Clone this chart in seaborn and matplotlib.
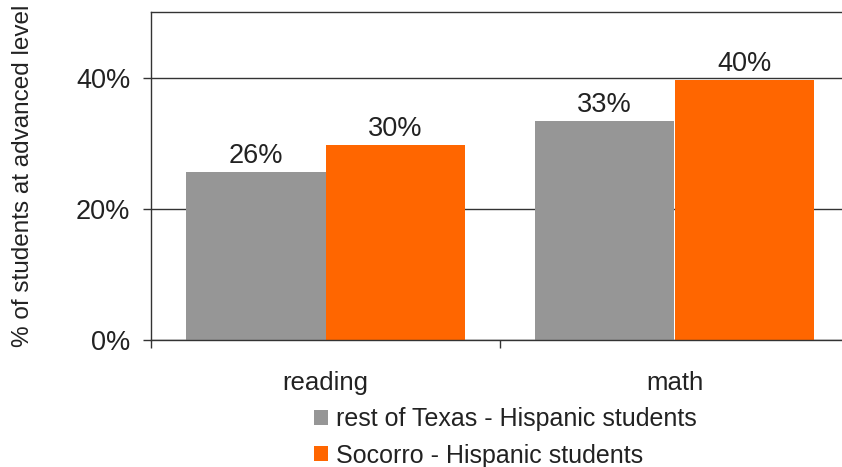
import matplotlib
matplotlib.use("Agg")
import matplotlib.pyplot as plt
import seaborn as sns
import pandas as pd
from matplotlib.patches import Patch
from matplotlib.ticker import FixedLocator

subjects = ["reading", "math"]
groups = ["rest of Texas - Hispanic students", "Socorro - Hispanic students"]
rest_of_texas = [25.6, 33.4]
socorro = [29.8, 39.6]
palette = {groups[0]: "#969696", groups[1]: "#FF6600"}
y_ticks = [0, 20, 40]

df = pd.DataFrame({
    "subject": subjects * 2,
    "group": [groups[0]] * 2 + [groups[1]] * 2,
    "value": rest_of_texas + socorro,
})

sns.set_theme(style="white")
plt.rcParams["font.family"] = ["Liberation Sans", "DejaVu Sans"]
plt.rcParams["text.color"] = "#222222"

fig = plt.figure(figsize=(8.42, 4.67), dpi=100)
ax = fig.add_axes([151 / 842, 1 - 340 / 467, 698 / 842, 328 / 467])

sns.barplot(data=df, x="subject", y="value", hue="group", palette=palette,
            width=0.8, saturation=1, ax=ax, legend=False, errorbar=None,
            linewidth=0, edgecolor="none")

for cont in ax.containers:
    ax.bar_label(cont, labels=[f"{v:.0f}%" for v in cont.datavalues],
                 padding=2, fontsize=19.5, color="#222222")

ax.set_xlim(-0.5, 1.5)
ax.set_ylim(0, 50)
ax.set_yticks(y_ticks)
ax.set_yticklabels([f"{t}%" for t in y_ticks], fontsize=19.5, color="#222222")
ax.yaxis.grid(True, color="#333333", linewidth=1)
ax.set_axisbelow(True)

# category boundaries carry the tick marks, labels sit at the centres
ax.xaxis.set_major_locator(FixedLocator([-0.5, 0.5, 1.5]))
ax.set_xticklabels(["", "", ""])
ax.xaxis.set_minor_locator(FixedLocator([0, 1]))
ax.set_xticklabels(subjects, minor=True, fontsize=18.5, color="#222222")
ax.tick_params(axis="x", which="major", bottom=True, direction="out", length=6,
               width=1, color="#333333")
ax.tick_params(axis="x", which="minor", bottom=True, length=0, pad=22)
ax.tick_params(axis="y", left=True, direction="out", length=6, width=1,
               color="#333333", pad=9)
ax.set_xlabel("")
ax.set_ylabel("% of students at advanced level", fontsize=17.5, color="#222222",
              labelpad=30)

for side in ["left", "bottom", "top"]:
    ax.spines[side].set_color("#333333")
    ax.spines[side].set_linewidth(1)
ax.spines["right"].set_visible(False)

handles = [Patch(facecolor=palette[g], edgecolor="none") for g in groups]
fig.legend(handles, groups, loc="upper left", bbox_to_anchor=(314 / 842, 1 - 407 / 467),
           frameon=False, fontsize=18, handlelength=0.56, handleheight=0.56,
           handletextpad=0.3, labelspacing=0.5, borderaxespad=0, borderpad=0)

fig.savefig("out.png", dpi=100)
